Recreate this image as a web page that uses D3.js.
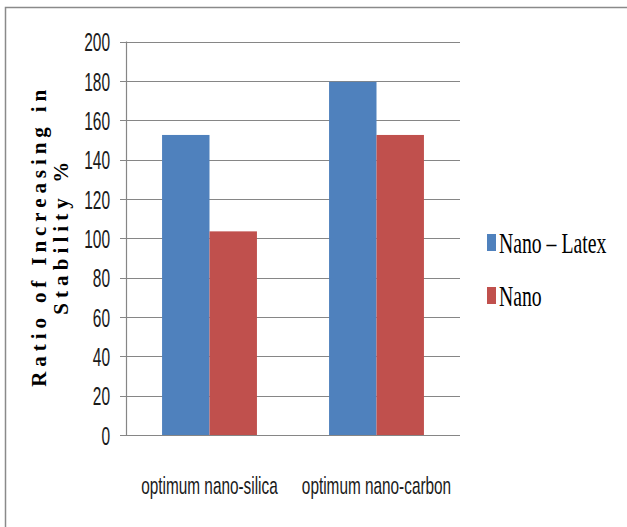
<!DOCTYPE html>
<html>
<head>
<meta charset="utf-8">
<script src="https://cdn.jsdelivr.net/npm/d3@7"></script>
<style>
  html, body { margin: 0; padding: 0; background: #fff; }
  svg { display: block; }
  .serif { font-family: "Liberation Serif", "DejaVu Serif", "Times New Roman", serif; }
  .sans { font-family: "Liberation Sans", Arial, sans-serif; }
</style>
</head>
<body>
<svg id="chart" width="627" height="527"></svg>
<script>
// Chart data
const categories = ["optimum nano-silica", "optimum nano-carbon"];
const seriesNames = ["Nano \u2013 Latex", "Nano"];
const nanoLatex = [152.5, 179.5];
const nano = [103.5, 152.5];
const yTicks = [0, 20, 40, 60, 80, 100, 120, 140, 160, 180, 200];
const yTitleLines = ["Ratio of Increasing in", "Stability %"];

const colors = ["#4F81BD", "#C0504D"];
const gridColor = "#868686";

const svg = d3.select("#chart");

// Outer frame
svg.append("rect")
  .attr("x", 5.5).attr("y", 7.5)
  .attr("width", 640).attr("height", 540)
  .attr("fill", "none")
  .attr("stroke", "#8a8a8a")
  .attr("stroke-width", 1.5);

const plot = { left: 126, right: 460, top: 41.5, bottom: 435 };

const y = d3.scaleLinear().domain([0, 200]).range([plot.bottom, plot.top]);
const x0 = d3.scaleBand().domain(categories).range([plot.left, plot.right]).padding(0);
const x1 = d3.scaleBand().domain(seriesNames)
  .range([0, x0.bandwidth()]).paddingInner(0).paddingOuter(0.76);

// Gridlines with short ticks left of the axis
svg.append("g").selectAll("line")
  .data(yTicks)
  .join("line")
  .attr("x1", plot.left - 6).attr("x2", plot.right)
  .attr("y1", d => Math.round(y(d)) + 0.5)
  .attr("y2", d => Math.round(y(d)) + 0.5)
  .attr("stroke", gridColor)
  .attr("stroke-width", 1.2);

// Vertical axis line
svg.append("line")
  .attr("x1", plot.left + 0.5).attr("x2", plot.left + 0.5)
  .attr("y1", y(200)).attr("y2", y(0))
  .attr("stroke", gridColor).attr("stroke-width", 1.2);

// Bars
const rows = categories.map((c, i) => ({ cat: c, values: [nanoLatex[i], nano[i]] }));
const groups = svg.append("g").selectAll("g")
  .data(rows)
  .join("g")
  .attr("transform", d => `translate(${x0(d.cat)},0)`);

groups.selectAll("rect")
  .data(d => d.values.map((v, j) => ({ key: seriesNames[j], value: v, j })))
  .join("rect")
  .attr("x", d => x1(d.key))
  .attr("width", x1.bandwidth())
  .attr("y", d => y(d.value))
  .attr("height", d => y(0) - y(d.value))
  .attr("fill", d => colors[d.j]);

// Y tick labels (condensed sans)
svg.append("g").selectAll("text")
  .data(yTicks)
  .join("text")
  .attr("class", "sans")
  .attr("transform", d => `translate(110,${y(d) + 0.5}) scale(0.62,1)`)
  .attr("dy", "0.37em")
  .attr("text-anchor", "end")
  .attr("font-size", 25)
  .attr("fill", "#1a1a1a")
  .text(d => d);

// Category labels
svg.append("g").selectAll("text")
  .data(categories)
  .join("text")
  .attr("class", "sans")
  .attr("transform", d => `translate(${x0(d) + x0.bandwidth() / 2},494) scale(0.64,1)`)
  .attr("text-anchor", "middle")
  .attr("font-size", 24)
  .attr("fill", "#1a1a1a")
  .text(d => d);

// Y-axis title, two lines, rotated
const cy = (plot.top + plot.bottom) / 2;
const titleLengths = [297, 153];
const titleBaselines = [46, 68];
svg.append("g").selectAll("text")
  .data(yTitleLines)
  .join("text")
  .attr("class", "serif")
  .attr("transform", (d, i) => `translate(${titleBaselines[i]},${cy}) rotate(-90)`)
  .attr("text-anchor", "middle")
  .attr("font-weight", "bold")
  .attr("font-size", 21)
  .attr("textLength", (d, i) => titleLengths[i])
  .attr("lengthAdjust", "spacing")
  .attr("fill", "#000")
  .text(d => d);

// Legend
const legend = svg.append("g");
const legendBaselines = [253, 306];
const items = legend.selectAll("g")
  .data(seriesNames)
  .join("g");
items.append("rect")
  .attr("x", 487)
  .attr("y", (d, i) => legendBaselines[i] - 19)
  .attr("width", 9).attr("height", 17)
  .attr("fill", (d, i) => colors[i]);
items.append("text")
  .attr("class", "serif")
  .attr("transform", (d, i) => `translate(499,${legendBaselines[i]}) scale(0.68,1)`)
  .attr("font-size", 29)
  .attr("fill", "#000")
  .text(d => d);
</script>
</body>
</html>
